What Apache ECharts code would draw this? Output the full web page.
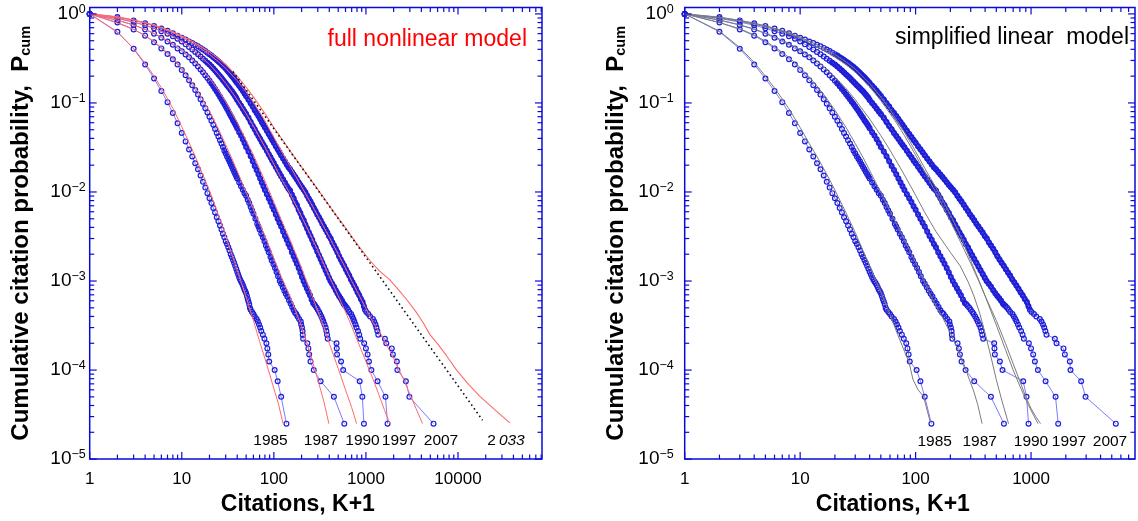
<!DOCTYPE html>
<html><head><meta charset="utf-8">
<script src="https://cdn.jsdelivr.net/npm/echarts@6.0.0/dist/echarts.min.js"></script>
<style>html,body{margin:0;padding:0;background:#fff}#c{width:1138px;height:521px}</style>
</head><body><div id="c"></div>
<script>
// ---------- empirical cumulative distributions (blue circles) ----------
const blue1985 = [[1,1],[2,0.63],[3,0.405],[4,0.27],[5,0.188],[6,0.136],[7,0.102],[8,0.077],[9,0.059],[10,0.046],[11,0.037],[12,0.030],[13,0.025],[14,0.021],[15,0.018],[16,0.0153],[17,0.013],[18,0.0112],[19,0.0097],[20,0.0085],[21,0.0075],[22,0.0066],[23,0.0059],[24,0.0052],[25,0.0047],[26,0.0042],[27,0.0038],[28,0.0034],[29,0.0031],[30,0.0028],[31,0.0026],[32,0.0024],[33,0.0022],[34,0.002],[35,0.00186],[36,0.00172],[37,0.0016],[38,0.00148],[39,0.00137],[40,0.00127],[41,0.00118],[42,0.0011],[43,0.00104],[44,0.00099],[45,0.00095],[46,0.0009],[47,0.00085],[48,0.0008],[49,0.00077],[50,0.00073],[51,0.00068],[52,0.00063],[53,0.00059],[54,0.00055],[55,0.0005],[56,0.000475],[58,0.00045],[60,0.000425],[62,0.0004],[65,0.000375],[67,0.00035],[69,0.000325],[71,0.0003],[73,0.000275],[76,0.00025],[79,0.000225],[83,0.0002],[85,0.000175],[87,0.00015],[89,0.000125],[102,0.0001],[110,0.000075],[120,0.00005],[137,0.000025]];
const blue1987 = [[1,1],[2,0.8],[3,0.67],[4,0.57],[5,0.48],[6,0.41],[7,0.355],[8,0.31],[9,0.27],[10,0.235],[11,0.205],[12,0.18],[13,0.158],[14,0.14],[15,0.124],[16,0.11],[17,0.098],[18,0.087],[19,0.078],[20,0.07],[21,0.063],[22,0.057],[23,0.051],[24,0.046],[25,0.042],[26,0.038],[27,0.035],[28,0.032],[29,0.029],[30,0.027],[31,0.025],[32,0.0235],[33,0.022],[34,0.0205],[35,0.0192],[36,0.018],[37,0.0169],[38,0.0159],[39,0.015],[40,0.0142],[42,0.0128],[44,0.0116],[46,0.0106],[48,0.0097],[50,0.0091],[52,0.0082],[54,0.0075],[56,0.0068],[58,0.0062],[60,0.0057],[63,0.005],[66,0.0044],[68,0.0041],[70,0.0038],[73,0.0034],[76,0.0031],[79,0.0028],[82,0.0025],[85,0.0023],[88,0.0021],[92,0.00186],[95,0.0017],[99,0.00154],[103,0.0014],[107,0.00126],[111,0.00113],[116,0.001],[120,0.00093],[125,0.00085],[130,0.00078],[135,0.00072],[140,0.00067],[146,0.00061],[152,0.00056],[158,0.00051],[164,0.00047],[170,0.00044],[175,0.000425],[181,0.0004],[188,0.000375],[196,0.00035],[198,0.000325],[202,0.0003],[205,0.000275],[206,0.00025],[208,0.000225],[231,0.0002],[237,0.000175],[242,0.00015],[250,0.000125],[271,0.0001],[322,0.000075],[449,0.00005],[582,0.000025]];
const blue1990 = [[1,1],[2,0.85],[3,0.75],[4,0.67],[5,0.6],[6,0.54],[7,0.49],[8,0.45],[9,0.41],[10,0.38],[11,0.35],[12,0.325],[13,0.3],[14,0.277],[15,0.257],[16,0.238],[17,0.221],[18,0.205],[19,0.19],[20,0.177],[21,0.165],[22,0.154],[23,0.143],[24,0.134],[25,0.125],[26,0.117],[27,0.11],[28,0.103],[29,0.097],[30,0.091],[31,0.086],[32,0.081],[33,0.076],[34,0.072],[35,0.068],[36,0.064],[37,0.061],[38,0.058],[39,0.055],[40,0.052],[42,0.047],[44,0.043],[46,0.039],[48,0.0355],[50,0.032],[53,0.0285],[56,0.0252],[59,0.0222],[62,0.0196],[65,0.0176],[68,0.0158],[71,0.0142],[74,0.0128],[77,0.0116],[80,0.0105],[84,0.0094],[88,0.0085],[92,0.0077],[96,0.0069],[100,0.0063],[105,0.0056],[110,0.005],[115,0.0045],[120,0.0041],[126,0.0036],[132,0.0032],[138,0.0029],[144,0.0026],[150,0.0024],[157,0.0021],[164,0.0019],[171,0.00172],[178,0.00156],[186,0.0014],[194,0.00125],[202,0.00111],[210,0.001],[219,0.00091],[228,0.00083],[237,0.00076],[247,0.00069],[257,0.00062],[267,0.000566],[275,0.00055],[283,0.000525],[292,0.0005],[300,0.000475],[310,0.00045],[318,0.000425],[328,0.0004],[337,0.000375],[345,0.00035],[355,0.000325],[365,0.0003],[372,0.000275],[378,0.00025],[385,0.000225],[479,0.0002],[482,0.000175],[486,0.00015],[537,0.000125],[566,0.0001],[855,0.000075],[914,0.00005],[951,0.000025]];
const blue1997 = [[1,1],[2,0.89],[3,0.81],[4,0.745],[5,0.69],[6,0.64],[7,0.6],[8,0.56],[9,0.525],[10,0.49],[11,0.455],[12,0.425],[13,0.398],[14,0.374],[15,0.352],[16,0.332],[17,0.314],[18,0.298],[19,0.283],[20,0.27],[21,0.256],[22,0.243],[23,0.231],[24,0.22],[25,0.209],[26,0.199],[27,0.19],[28,0.181],[29,0.173],[30,0.165],[31,0.158],[32,0.152],[33,0.146],[34,0.14],[35,0.135],[36,0.129],[37,0.124],[38,0.119],[39,0.114],[40,0.108],[42,0.1],[44,0.093],[46,0.086],[48,0.08],[50,0.075],[53,0.068],[56,0.061],[59,0.055],[62,0.0505],[65,0.046],[68,0.0426],[71,0.0394],[74,0.0365],[77,0.034],[80,0.0317],[84,0.029],[88,0.0266],[92,0.0245],[96,0.0226],[100,0.021],[105,0.0192],[110,0.0176],[115,0.0162],[120,0.015],[126,0.0138],[132,0.0127],[138,0.0117],[144,0.0109],[150,0.0104],[157,0.0093],[164,0.0085],[171,0.0076],[178,0.0071],[186,0.0063],[194,0.0058],[202,0.0052],[211,0.0048],[220,0.0043],[230,0.0039],[240,0.0035],[250,0.0032],[261,0.0029],[272,0.0026],[284,0.0024],[296,0.00215],[309,0.00195],[322,0.00177],[336,0.0016],[350,0.00146],[365,0.00132],[381,0.0012],[397,0.00109],[412,0.001],[430,0.00093],[450,0.00086],[470,0.00079],[490,0.00073],[510,0.00068],[530,0.00064],[550,0.0006],[570,0.00056],[583,0.00054],[600,0.000525],[620,0.0005],[640,0.000475],[660,0.00045],[690,0.000425],[710,0.0004],[730,0.000375],[748,0.00035],[770,0.000325],[790,0.0003],[820,0.000275],[845,0.00025],[867,0.000225],[957,0.0002],[1000,0.000175],[1043,0.00015],[1079,0.000125],[1146,0.0001],[1336,0.000075],[1630,0.00005],[1718,0.000025]];
const blue2007 = [[1,1],[2,0.92],[3,0.845],[4,0.785],[5,0.73],[6,0.685],[7,0.645],[8,0.605],[9,0.57],[10,0.54],[11,0.515],[12,0.49],[13,0.47],[14,0.45],[15,0.432],[16,0.415],[17,0.398],[18,0.382],[19,0.367],[20,0.353],[21,0.34],[22,0.327],[23,0.315],[24,0.303],[25,0.292],[26,0.282],[27,0.272],[28,0.262],[29,0.253],[30,0.244],[31,0.234],[32,0.225],[33,0.217],[34,0.209],[35,0.201],[36,0.194],[37,0.187],[38,0.18],[39,0.173],[40,0.167],[42,0.156],[44,0.146],[46,0.137],[48,0.128],[50,0.12],[53,0.109],[56,0.099],[59,0.091],[62,0.083],[65,0.077],[68,0.0712],[71,0.066],[74,0.0612],[77,0.057],[80,0.053],[84,0.0486],[88,0.0447],[92,0.0414],[96,0.0384],[100,0.0357],[105,0.0327],[110,0.0301],[115,0.0279],[120,0.0259],[126,0.0238],[132,0.022],[138,0.0204],[144,0.019],[150,0.018],[157,0.0168],[164,0.0157],[171,0.0147],[178,0.0138],[186,0.0129],[194,0.012],[202,0.0113],[211,0.0106],[220,0.0099],[230,0.0091],[240,0.0084],[250,0.0078],[261,0.0072],[272,0.0066],[284,0.0061],[296,0.0056],[309,0.0052],[322,0.0048],[336,0.0044],[350,0.0041],[365,0.0038],[381,0.0035],[397,0.0032],[414,0.003],[432,0.0027],[450,0.0025],[470,0.0023],[490,0.0021],[511,0.0019],[533,0.00175],[556,0.0016],[580,0.00148],[605,0.00136],[631,0.00125],[658,0.00115],[686,0.00105],[715,0.00097],[746,0.00089],[778,0.00082],[811,0.00075],[846,0.00069],[882,0.00063],[920,0.00058],[950,0.00052],[977,0.000475],[1010,0.00045],[1060,0.000425],[1110,0.0004],[1191,0.000375],[1230,0.00035],[1270,0.000325],[1300,0.0003],[1330,0.000275],[1362,0.00025],[1607,0.000225],[1663,0.0002],[1910,0.000175],[1963,0.00015],[2168,0.000125],[2196,0.0001],[2716,0.000075],[2965,0.00005],[5420,0.000025]];

// ---------- full nonlinear model (left, red) ----------
const red1985 = [[1,1],[2,0.62],[3,0.41],[4,0.28],[5,0.2],[6,0.148],[7,0.112],[8,0.087],[10,0.054],[12,0.036],[14,0.025],[17,0.0155],[20,0.0103],[25,0.0055],[30,0.0032],[35,0.002],[40,0.00133],[50,0.00066],[60,0.00036],[70,0.00021],[80,0.000135],[90,0.00009],[100,0.000062],[112,0.000042],[126,0.000025]];
const red1987 = [[1,1],[2,0.79],[3,0.67],[4,0.57],[5,0.49],[6,0.42],[7,0.365],[8,0.32],[10,0.245],[12,0.19],[14,0.15],[17,0.108],[20,0.08],[25,0.051],[30,0.034],[35,0.0238],[40,0.0172],[50,0.0099],[60,0.0064],[70,0.0044],[80,0.0032],[100,0.0018],[120,0.00113],[150,0.00067],[200,0.00031],[250,0.00015],[300,0.000078],[350,0.000044],[396,0.000025]];
const red1990 = [[1,1],[2,0.85],[3,0.75],[4,0.67],[5,0.605],[6,0.55],[8,0.46],[10,0.39],[12,0.335],[15,0.27],[20,0.19],[25,0.138],[30,0.103],[40,0.06],[50,0.038],[60,0.026],[70,0.0182],[80,0.0133],[100,0.0077],[120,0.0049],[150,0.0029],[200,0.0014],[250,0.00076],[300,0.00046],[350,0.0003],[400,0.0002],[500,0.000104],[600,0.00006],[700,0.000038],[792,0.000025]];
const red1997 = [[1,1],[2,0.89],[3,0.81],[4,0.745],[5,0.69],[6,0.64],[8,0.56],[10,0.49],[12,0.43],[15,0.355],[20,0.27],[25,0.21],[30,0.166],[40,0.109],[50,0.076],[60,0.055],[70,0.041],[80,0.032],[100,0.0205],[120,0.0142],[150,0.0095],[200,0.0053],[250,0.0033],[300,0.0022],[400,0.00113],[500,0.00068],[600,0.00045],[700,0.00031],[800,0.00022],[1000,0.000125],[1200,0.000078],[1400,0.000051],[1600,0.000035],[1820,0.000025]];
const red2007 = [[1,1],[2,0.92],[3,0.85],[4,0.79],[5,0.74],[6,0.695],[8,0.615],[10,0.55],[12,0.495],[15,0.43],[20,0.35],[25,0.29],[30,0.245],[40,0.178],[50,0.133],[60,0.101],[70,0.079],[80,0.063],[100,0.041],[120,0.029],[150,0.0195],[200,0.0115],[250,0.0076],[300,0.0054],[400,0.0031],[500,0.002],[600,0.0014],[700,0.001],[800,0.00077],[1000,0.00049],[1200,0.00034],[1500,0.00024],[2000,0.000135],[2500,0.000083],[3000,0.000054],[3500,0.000037],[4120,0.000025]];
const red2033 = [[1,1],[2,0.925],[3,0.855],[4,0.8],[5,0.75],[6,0.705],[8,0.63],[10,0.565],[12,0.515],[15,0.45],[20,0.375],[25,0.315],[30,0.27],[40,0.2],[50,0.15],[60,0.117],[70,0.093],[80,0.076],[100,0.053],[150,0.029],[200,0.0191],[300,0.0107],[450,0.0059],[617,0.0038],[800,0.0026],[1105,0.0017],[1400,0.0013],[1820,0.00103],[2300,0.00078],[2766,0.00062],[3500,0.00045],[4190,0.00034],[4950,0.00025],[6100,0.000193],[7500,0.000145],[9650,0.0001],[13000,0.000069],[17300,0.0000507],[25000,0.000036],[36600,0.0000255]];
const powerLaw = [[36,0.225],[18500,0.0000273]];

// ---------- simplified linear model (right, gray) ----------
const gray1985 = [[1,1],[2,0.64],[3,0.42],[4,0.285],[5,0.2],[6,0.147],[7,0.111],[8,0.086],[10,0.053],[12,0.035],[14,0.025],[17,0.0158],[20,0.0105],[25,0.0058],[30,0.0035],[35,0.0022],[40,0.00148],[50,0.00075],[60,0.00042],[70,0.00025],[80,0.000163],[88,0.00012],[95,0.000078],[105,0.00006],[117,0.0000507],[134,0.000026]];
const gray1987 = [[1,1],[2,0.8],[3,0.68],[4,0.58],[5,0.495],[6,0.425],[7,0.37],[8,0.325],[10,0.25],[12,0.195],[14,0.155],[17,0.112],[20,0.083],[25,0.053],[30,0.035],[35,0.0245],[40,0.0175],[50,0.0098],[60,0.0061],[70,0.0041],[80,0.0029],[100,0.00162],[116,0.00105],[140,0.00062],[168,0.00041],[200,0.00026],[226,0.000185],[260,0.00012],[290,0.00008],[316,0.00006],[345,0.000041],[377,0.000025]];
const gray1990 = [[1,1],[2,0.855],[3,0.755],[4,0.675],[5,0.61],[6,0.555],[8,0.465],[10,0.395],[12,0.34],[15,0.275],[20,0.195],[25,0.145],[30,0.109],[40,0.066],[50,0.043],[60,0.0295],[70,0.021],[80,0.0155],[100,0.0092],[120,0.0059],[150,0.0036],[200,0.0021],[243,0.00148],[285,0.00098],[320,0.00068],[360,0.00043],[400,0.00026],[450,0.00014],[500,0.000078],[560,0.000045],[638,0.000025]];
const gray1997 = [[1,1],[2,0.9],[3,0.825],[4,0.765],[5,0.715],[6,0.67],[8,0.595],[10,0.53],[12,0.475],[15,0.41],[20,0.33],[25,0.27],[30,0.222],[40,0.152],[50,0.106],[60,0.076],[66,0.064],[80,0.043],[100,0.026],[120,0.0168],[150,0.0098],[200,0.0047],[250,0.0026],[300,0.00158],[350,0.00102],[400,0.00068],[500,0.00036],[600,0.0002],[700,0.000118],[800,0.000075],[900,0.00005],[1000,0.000037],[1100,0.00003],[1208,0.000025]];
const gray2007 = [[1,1],[2,0.915],[3,0.845],[4,0.785],[5,0.735],[6,0.69],[8,0.615],[10,0.55],[12,0.495],[15,0.43],[20,0.35],[25,0.288],[30,0.24],[40,0.165],[50,0.116],[60,0.084],[70,0.062],[80,0.047],[100,0.0285],[120,0.0185],[150,0.0112],[200,0.0056],[250,0.003],[300,0.0017],[350,0.00105],[400,0.00068],[500,0.00032],[600,0.00017],[700,0.0001],[800,0.000066],[950,0.00004],[1150,0.000025]];

// ---------- ticks and labels ----------
const xMajorLeft = [1,10,100,1000,10000];
const xMinorLeft = [2,3,4,5,6,7,8,9,20,30,40,50,60,70,80,90,200,300,400,500,600,700,800,900,2000,3000,4000,5000,6000,7000,8000,9000,20000,30000,40000,50000,60000,70000,80000];
const xMajorRight = [1,10,100,1000];
const xMinorRight = [2,3,4,5,6,7,8,9,20,30,40,50,60,70,80,90,200,300,400,500,600,700,800,900,2000,3000,4000,5000,6000,7000];
const yMajor = [0.00001,0.0001,0.001,0.01,0.1,1];
const yMinor = [0.00002,0.00003,0.00004,0.00005,0.00006,0.00007,0.00008,0.00009,0.0002,0.0003,0.0004,0.0005,0.0006,0.0007,0.0008,0.0009,0.002,0.003,0.004,0.005,0.006,0.007,0.008,0.009,0.02,0.03,0.04,0.05,0.06,0.07,0.08,0.09,0.2,0.3,0.4,0.5,0.6,0.7,0.8,0.9];
const yearsLeft = ['1985','1987','1990','1997','2007'];
const yearsRight = ['1985','1987','1990','1997','2007'];
const predictedYear = ['2','033'];

const FONT = '"Liberation Sans", Arial, Helvetica, sans-serif';
const FRAME = '#0a0ad8';
const MK = '#1e1ed8';
const LN = '#6c6cff';
const BAND = '#2626d0';
const RED = '#ff6a6a';
const GRAY = '#7c7c7c';

function isPow10(v){ const e = Math.log10(v); return Math.abs(e - Math.round(e)) < 1e-6; }

function xTicks(gi, vals, len){
  return {type:'custom', xAxisIndex:gi, yAxisIndex:gi, z:10, silent:true,
    data: vals.map(v => [v, 0.01]),
    renderItem(params, api){
      const cs = params.coordSys;
      const px = api.coord([api.value(0), 0.01])[0];
      const st = {stroke: FRAME, lineWidth: 1.2};
      const b = cs.y + cs.height;
      return {type:'group', children:[
        {type:'line', shape:{x1:px, y1:b, x2:px, y2:b - len}, style:st},
        {type:'line', shape:{x1:px, y1:cs.y, x2:px, y2:cs.y + len}, style:st}]};
    }};
}
function yTicks(gi, vals, len){
  return {type:'custom', xAxisIndex:gi, yAxisIndex:gi, z:10, silent:true,
    data: vals.map(v => [10, v]),
    renderItem(params, api){
      const cs = params.coordSys;
      const py = api.coord([10, api.value(1)])[1];
      const st = {stroke: FRAME, lineWidth: 1.2};
      const r = cs.x + cs.width;
      return {type:'group', children:[
        {type:'line', shape:{x1:cs.x, y1:py, x2:cs.x + len, y2:py}, style:st},
        {type:'line', shape:{x1:r, y1:py, x2:r - len, y2:py}, style:st}]};
    }};
}
function blueSeries(gi, data){
  return {type:'line', xAxisIndex:gi, yAxisIndex:gi, data, z:3, silent:true,
    symbol:'circle', symbolSize:4.8, showSymbol:true,
    itemStyle:{color:'rgba(255,255,255,0)', borderColor:MK, borderWidth:1.2},
    lineStyle:{color:LN, width:0.9}};
}
function bandSeries(gi, data, lo, hi, w){
  return {type:'line', xAxisIndex:gi, yAxisIndex:gi, z:2, silent:true, symbol:'none',
    data: data.filter(d => d[0] >= lo && d[0] <= hi),
    lineStyle:{color:BAND, width:w}};
}
function modelSeries(gi, data, color, w){
  return {type:'line', xAxisIndex:gi, yAxisIndex:gi, z:4, silent:true, symbol:'none',
    data, lineStyle:{color, width:w}};
}

function xAxisOpt(gi, max, padRight){
  return {type:'log', gridIndex:gi, logBase:10, min:1, max,
    axisLine:{show:false}, axisTick:{show:false}, splitLine:{show:false}, minorTick:{show:false},
    axisLabel:{margin:12, color:'#000', fontSize:17, fontFamily:FONT,
      formatter: v => isPow10(v) ? String(Math.round(v)) : ''},
    name:'Citations, K+1', nameLocation:'middle', nameGap:31,
    nameTextStyle:{color:'#000', fontSize:23, fontWeight:'bold', fontFamily:FONT, padding:[0,padRight,0,0]}};
}
function yAxisOpt(gi, margin){
  return {type:'log', gridIndex:gi, logBase:10, min:0.00001, max:1.18,
    axisLine:{show:false}, axisTick:{show:false}, splitLine:{show:false}, minorTick:{show:false},
    axisLabel:{margin, color:'#000', fontFamily:FONT,
      formatter: v => {
        if (!isPow10(v)) return '';
        const e = Math.round(Math.log10(v));
        return '{b|10}{s|' + (e < 0 ? '\u2212' + (-e) : String(e)) + '}';
      },
      rich:{b:{fontSize:19, fontFamily:FONT, color:'#000'}, s:{fontSize:12.5, fontFamily:FONT, color:'#000', padding:[0,0,9,0]}}},
    name:'{t|Cumulative citation probability,  P}{s|cum}', nameLocation:'middle', nameRotate:90, nameGap:56,
    nameTextStyle:{rich:{t:{fontSize:24, fontWeight:'bold', fontFamily:FONT, color:'#000'},
                         s:{fontSize:14.5, fontWeight:'bold', fontFamily:FONT, color:'#000', padding:[10,0,0,0]}}}};
}

const series = [
  bandSeries(0, blue1987, 28, 170, 2.5), bandSeries(0, blue1990, 20, 280, 4), bandSeries(0, blue1997, 18, 600, 5), bandSeries(0, blue2007, 20, 1000, 5),
  blueSeries(0, blue1985), blueSeries(0, blue1987), blueSeries(0, blue1990), blueSeries(0, blue1997), blueSeries(0, blue2007),
  modelSeries(0, red1985, RED, 1), modelSeries(0, red1987, RED, 1), modelSeries(0, red1990, RED, 1),
  modelSeries(0, red1997, RED, 1), modelSeries(0, red2007, RED, 1), modelSeries(0, red2033, RED, 1.1),
  {type:'line', xAxisIndex:0, yAxisIndex:0, z:5, silent:true, symbol:'none', data:powerLaw,
    lineStyle:{color:'#111', width:1.6, type:[1.6,3]}},
  xTicks(0, xMajorLeft, 7), xTicks(0, xMinorLeft, 4.5), yTicks(0, yMajor, 7), yTicks(0, yMinor, 4.5),

  bandSeries(1, blue1987, 28, 170, 2.5), bandSeries(1, blue1990, 20, 280, 4), bandSeries(1, blue1997, 18, 600, 5), bandSeries(1, blue2007, 20, 1000, 5),
  blueSeries(1, blue1985), blueSeries(1, blue1987), blueSeries(1, blue1990), blueSeries(1, blue1997), blueSeries(1, blue2007),
  modelSeries(1, gray1985, GRAY, 1), modelSeries(1, gray1987, GRAY, 1), modelSeries(1, gray1990, GRAY, 1),
  modelSeries(1, gray1997, GRAY, 1), modelSeries(1, gray2007, GRAY, 1),
  xTicks(1, xMajorRight, 7), xTicks(1, xMinorRight, 4.5), yTicks(1, yMajor, 7), yTicks(1, yMinor, 4.5)
];

function yearText(txt, x, y){
  return {type:'text', x, y, silent:true, z:20,
    style:{text:txt, fill:'#000', font:'15.5px ' + FONT, align:'center', verticalAlign:'middle', textAlign:'center', textVerticalAlign:'middle'}};
}
const leftYearX = [270.5, 321, 362.5, 399, 441];
const rightYearX = [934.7, 979.7, 1031, 1069, 1110];
const graphics = [];
yearsLeft.forEach((t, i) => graphics.push(yearText(t, leftYearX[i], 441)));
yearsRight.forEach((t, i) => graphics.push(yearText(t, rightYearX[i], 442)));
graphics.push({type:'text', x:506, y:441, silent:true, z:20,
  style:{text:predictedYear[0] + '{i|' + predictedYear[1] + '}', fill:'#000', font:'15.5px ' + FONT,
    rich:{i:{fontStyle:'italic', fontSize:15.5, fontFamily:FONT, padding:[0,0,0,3]}},
    align:'center', verticalAlign:'middle', textAlign:'center', textVerticalAlign:'middle'}});
graphics.push({type:'text', x:527, y:40, silent:true, z:20,
  style:{text:'full nonlinear model', fill:'#ff0000', font:'23px ' + FONT, align:'right', verticalAlign:'middle', textAlign:'right', textVerticalAlign:'middle'}});
graphics.push({type:'text', x:1129, y:37.5, silent:true, z:20,
  style:{text:'simplified linear  model', fill:'#000', font:'23px ' + FONT, align:'right', verticalAlign:'middle', textAlign:'right', textVerticalAlign:'middle'}});

const chart = echarts.init(document.getElementById('c'), null, {renderer:'canvas'});
chart.setOption({
  animation:false,
  backgroundColor:'#fff',
  grid:[
    {left:89.7, top:7.5, width:452.3, height:452, show:true, borderColor:FRAME, borderWidth:1.5, backgroundColor:'rgba(0,0,0,0)'},
    {left:684.7, top:7.5, width:450.6, height:452, show:true, borderColor:FRAME, borderWidth:1.5, backgroundColor:'rgba(0,0,0,0)'}
  ],
  xAxis:[xAxisOpt(0, 81700, 36), xAxisOpt(1, 7950, 34)],
  yAxis:[yAxisOpt(0, 4), yAxisOpt(1, 11)],
  series,
  graphic: graphics
});
</script></body></html>
